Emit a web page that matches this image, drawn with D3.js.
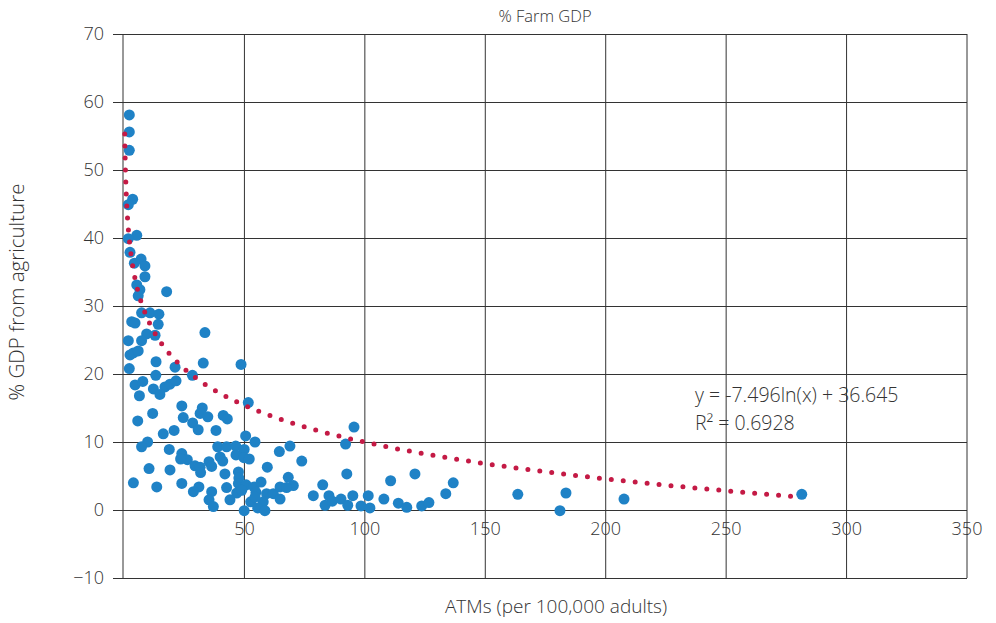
<!DOCTYPE html>
<html>
<head>
<meta charset="utf-8">
<script src="https://cdn.jsdelivr.net/npm/d3@7"></script>
<style>
  body { margin: 0; background: #fff; }
  svg text { font-family: "Open Sans", Roboto, sans-serif; font-weight: 300; fill: #333; }
</style>
</head>
<body>
<svg id="chart"></svg>
<script>
// ATMs per 100,000 adults vs % GDP from agriculture
const atms = [
  2.2, 2.2, 2.2, 3.6, 1.8, 5.3, 1.8, 2.5, 4.3, 7.1, 8.7, 8.7, 5.3, 6.6, 5.9, 17.7,
  7.3, 10.8, 14.5, 14.2, 3.2, 4.6, 9.4, 12.9, 7.3, 1.8, 2.5, 3.9, 5.9, 13.3, 2.2, 21.2,
  13.2, 4.6, 7.8, 12.2, 17.0, 19.1, 21.6, 14.9, 6.4, 11.9, 5.7, 20.8, 16.3, 9.8, 7.3, 18.8,
  10.4, 19.1, 3.9, 13.6,
  33.6, 32.9, 48.6, 28.4, 51.6, 24.0, 32.5, 24.6, 31.6, 34.8, 41.2, 42.9, 28.5, 30.8, 38.2,
  50.5, 54.4, 64.5, 68.9, 73.8, 38.9, 42.6, 46.4, 49.9, 46.5, 49.8, 52.0, 24.0, 26.3, 29.5,
  31.6, 31.8, 35.3, 36.4, 39.9, 41.0, 59.5, 41.9, 47.5, 47.7, 47.5, 24.0, 31.1, 28.8, 42.6,
  36.4, 50.7, 54.0, 56.9, 46.8, 48.9, 54.8, 59.2, 62.0, 64.8, 68.2, 70.3, 64.8, 35.3, 44.0,
  57.8, 52.6, 54.4, 37.1, 55.5, 58.5, 49.9, 82.5, 78.6, 83.5, 23.5,
  95.5, 92.0, 92.5, 110.7, 120.8, 136.7, 133.6, 67.5, 85.1, 86.5, 90.1, 95.0, 92.9, 98.4,
  101.4, 102.1, 107.9, 113.9, 117.4, 123.6, 126.6,
  163.5, 183.5, 181.0, 207.6, 281.4
];
const farmGdp = [
  58.1, 55.6, 52.9, 45.7, 44.9, 40.4, 39.9, 37.9, 36.3, 36.9, 35.9, 34.3, 33.1, 32.4, 31.5, 32.1,
  29.0, 29.0, 28.8, 27.3, 27.7, 27.5, 25.9, 25.7, 24.9, 24.9, 22.8, 23.1, 23.4, 21.8, 20.8, 21.0,
  19.8, 18.4, 18.9, 17.8, 18.1, 18.5, 19.0, 17.0, 16.8, 14.2, 13.1, 11.7, 11.2, 10.0, 9.3, 8.9,
  6.1, 5.9, 4.0, 3.4,
  26.1, 21.6, 21.4, 19.8, 15.8, 15.3, 15.0, 13.6, 14.2, 13.7, 13.9, 13.4, 12.8, 11.8, 11.7,
  10.9, 10.0, 8.6, 9.4, 7.2, 9.3, 9.3, 9.4, 8.9, 8.1, 7.7, 7.5, 8.3, 7.4, 6.5,
  6.3, 5.5, 7.1, 6.4, 7.8, 7.2, 6.3, 5.3, 5.6, 4.7, 3.9, 3.9, 3.4, 2.7, 3.3,
  2.7, 3.7, 3.4, 4.1, 2.5, 2.9, 2.6, 2.4, 2.4, 3.4, 4.8, 3.6, 1.6, 1.5, 1.5,
  1.2, 1.2, 1.9, 0.5, 0.3, -0.1, -0.1, 3.7, 2.1, 0.7, 7.5,
  12.2, 9.7, 5.3, 4.3, 5.3, 4.0, 2.4, 3.3, 2.1, 1.3, 1.6, 2.1, 0.7, 0.6,
  2.1, 0.3, 1.6, 1.0, 0.4, 0.6, 1.1,
  2.3, 2.5, -0.1, 1.6, 2.3
];
const xTicks = [50, 100, 150, 200, 250, 300, 350];
const yTicks = [-10, 0, 10, 20, 30, 40, 50, 60, 70];
// trend curve as drawn in the picture (log fit), and its printed label
const trendSlope = -7.8, trendIntercept = 45.9;
const trendRange = [0.3, 280.5];
const eqLabel = ['y = -7.496ln(x) + 36.645', 'R² = 0.6928'];

const width = 996, height = 623;
const svg = d3.select('#chart').attr('width', width).attr('height', height);

const x = d3.scaleLinear().domain([0, 350]).range([124, 967]);
const y = d3.scaleLinear().domain([-10, 70]).range([578, 34]);

// horizontal grid + left ticks
svg.append('g')
   .attr('transform', 'translate(123,0)')
   .call(d3.axisLeft(y).tickValues(yTicks).tickSize(-(967 - 123)).tickPadding(8).tickFormat(d3.format('d')))
   .call(g => g.select('.domain').remove())
   .call(g => g.selectAll('.tick line').attr('stroke', '#333').attr('x1', -10))
   .call(g => g.selectAll('.tick text').attr('x', -19).attr('font-size', 18).attr('fill', '#333'));

// vertical grid
svg.append('g')
   .selectAll('line')
   .data([0].concat(xTicks))
   .enter()
   .append('line')
   .attr('x1', d => x(d) - (d === 0 ? 1 : 0))
   .attr('x2', d => x(d) - (d === 0 ? 1 : 0))
   .attr('y1', y(70))
   .attr('y2', y(-10))
   .attr('stroke', '#333');

// x tick labels sit under the zero line
svg.append('g')
   .selectAll('text')
   .data(xTicks)
   .enter()
   .append('text')
   .attr('x', d => x(d))
   .attr('y', y(0) + 25)
   .attr('text-anchor', 'middle')
   .attr('font-size', 18)
   .text(d => d);

// points
svg.append('g')
   .selectAll('circle')
   .data(atms.map((d, i) => [d, farmGdp[i]]))
   .enter()
   .append('circle')
   .attr('cx', d => x(d[0]))
   .attr('cy', d => y(d[1]))
   .attr('r', 5.5)
   .attr('fill', '#1f82c6');

// log trend line, dotted
const trendPts = d3.range(0, 401).map(i => {
    let t = i / 400;
    let xv = Math.exp(Math.log(trendRange[0]) + t * (Math.log(trendRange[1]) - Math.log(trendRange[0])));
    return [xv, trendSlope * Math.log(xv) + trendIntercept];
});
svg.append('path')
   .datum(trendPts)
   .attr('d', d3.line().x(d => x(d[0])).y(d => y(d[1])))
   .attr('fill', 'none')
   .attr('stroke', '#c41a45')
   .attr('stroke-width', 5)
   .attr('stroke-linecap', 'round')
   .attr('stroke-dasharray', '0,12');

// equation
svg.append('text').attr('x', 695).attr('y', 402).attr('font-size', 19.5).text(eqLabel[0]);
svg.append('text').attr('x', 695).attr('y', 430).attr('font-size', 19.5).text(eqLabel[1]);

// titles
svg.append('text').attr('x', 545).attr('y', 22).attr('text-anchor', 'middle')
   .attr('font-size', 16.5).text('% Farm GDP');
svg.append('text').attr('x', 556).attr('y', 613).attr('text-anchor', 'middle')
   .attr('font-size', 19).text('ATMs (per 100,000 adults)');
svg.append('text').attr('transform', 'translate(24,292) rotate(-90)').attr('text-anchor', 'middle')
   .attr('font-size', 20.5).text('% GDP from agriculture');
</script>
</body>
</html>
